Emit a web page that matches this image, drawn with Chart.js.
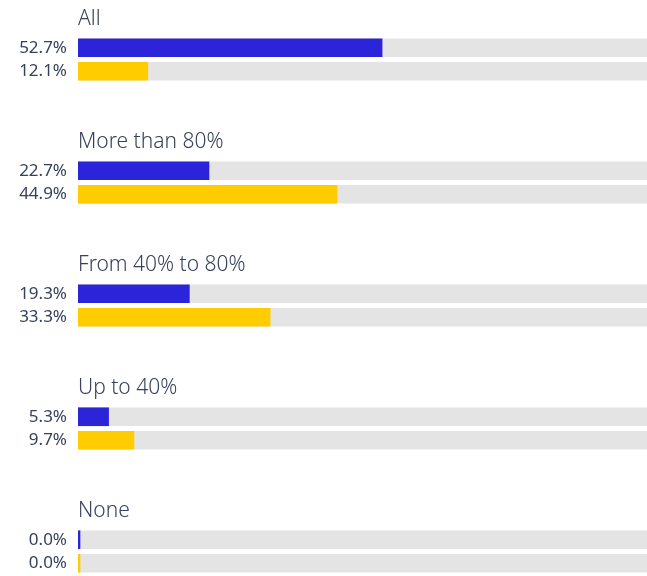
<!DOCTYPE html>
<html>
<head>
<meta charset="utf-8">
<script src="https://cdn.jsdelivr.net/npm/chart.js@4.4.1/dist/chart.umd.min.js"></script>
<style>
  html, body { margin: 0; padding: 0; background: #fff; overflow: hidden; }
  .group { width: 655px; height: 123px; }
</style>
</head>
<body>
<div id="charts"></div>
<script>
// Data
const groups = ['All', 'More than 80%', 'From 40% to 80%', 'Up to 40%', 'None'];
const blueValues = [52.7, 22.7, 19.3, 5.3, 0.0];
const yellowValues = [12.1, 44.9, 33.3, 9.7, 0.0];
const maxValue = 100;

const blueColor = '#2c24d9';
const yellowColor = '#ffcc00';
const trackColor = '#e4e4e4';
const textColor = '#36415a';
const fontFamily = "'Noto Sans', sans-serif";

// Group title drawn above the bars, aligned with the plot area
const groupTitlePlugin = {
    id: 'groupTitle',
    afterDraw(chart, args, opts) {
        const ctx = chart.ctx;
        ctx.save();
        ctx.fillStyle = textColor;
        ctx.font = `300 21px ${fontFamily}`;
        ctx.textBaseline = 'middle';
        ctx.textAlign = 'left';
        ctx.fillText(opts.text, chart.chartArea.left, 19);
        ctx.restore();
    }
};

function makeChart(index) {
    const wrap = document.createElement('div');
    wrap.className = 'group';
    const canvas = document.createElement('canvas');
    canvas.width = 655;
    canvas.height = 123;
    wrap.appendChild(canvas);
    document.getElementById('charts').appendChild(wrap);

    const values = [blueValues[index], yellowValues[index]];

    new Chart(canvas, {
        type: 'bar',
        data: {
            labels: values.map(v => v.toFixed(1) + '%'),
            datasets: [
                {
                    data: values,
                    backgroundColor: [blueColor, yellowColor],
                    barThickness: 18,
                    minBarLength: 2,
                    grouped: false,
                    order: 0
                },
                {
                    data: values.map(() => maxValue),
                    backgroundColor: trackColor,
                    barThickness: 18,
                    grouped: false,
                    order: 1
                }
            ]
        },
        options: {
            indexAxis: 'y',
            responsive: false,
            animation: false,
            layout: { padding: { top: 36, bottom: 40, left: 0, right: 0 } },
            plugins: {
                legend: { display: false },
                tooltip: { enabled: false },
                groupTitle: { text: groups[index] }
            },
            scales: {
                x: {
                    display: false,
                    min: 0,
                    max: maxValue
                },
                y: {
                    afterFit(scale) { scale.width = 78; },
                    grid: { display: false },
                    border: { display: false },
                    ticks: {
                        color: textColor,
                        padding: 3,
                        font: { family: fontFamily, size: 17, weight: 400 }
                    }
                }
            }
        },
        plugins: [groupTitlePlugin]
    });
}

groups.forEach((g, i) => makeChart(i));
</script>
</body>
</html>
